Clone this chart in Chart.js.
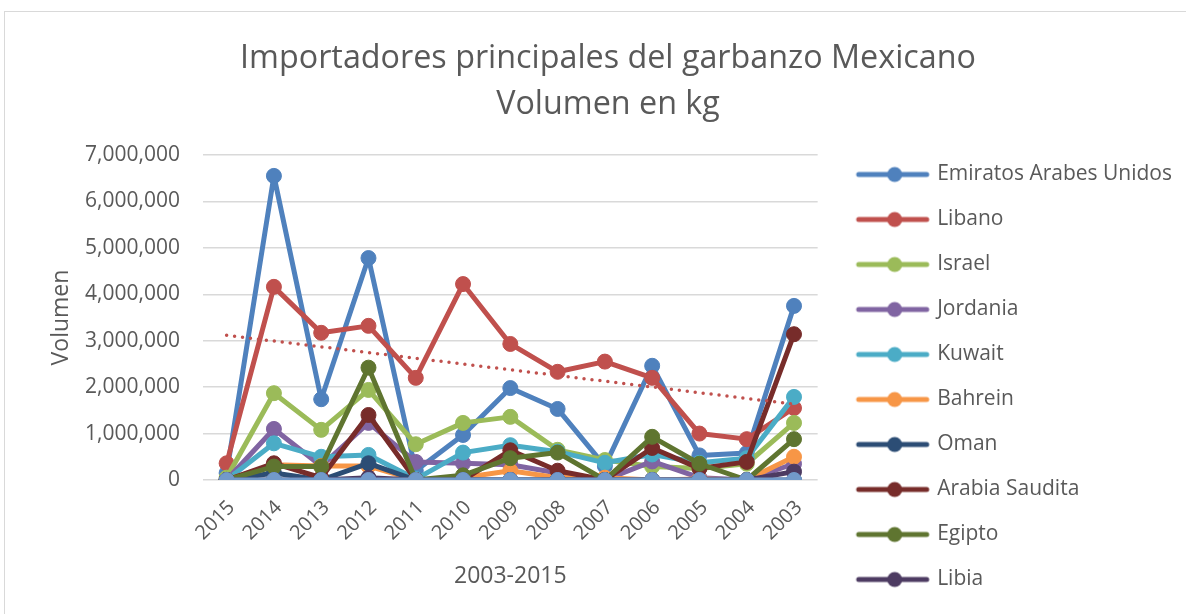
<!DOCTYPE html>
<html>
<head>
<meta charset="utf-8">
<script src="https://cdn.jsdelivr.net/npm/chart.js@4.4.1/dist/chart.umd.min.js"></script>
<style>
  html, body { margin: 0; padding: 0; background: #fff; overflow: hidden; }
  #frame { position: absolute; left: 4px; top: 11px; width: 1190px; height: 610px; border: 1px solid #d9d9d9; }
  #myChart { position: absolute; left: 0; top: 0; }
</style>
</head>
<body>
<div id="frame"></div>
<canvas id="myChart" width="1186" height="614"></canvas>
<script>
// data block
const years = ['2015', '2014', '2013', '2012', '2011', '2010', '2009', '2008', '2007', '2006', '2005', '2004', '2003'];

const emiratos = [150000, 6550000, 1740000, 4780000, 200000, 970000, 1980000, 1530000, 300000, 2460000, 530000, 580000, 3750000];
const libano   = [360000, 4160000, 3170000, 3320000, 2200000, 4220000, 2930000, 2330000, 2550000, 2200000, 1000000, 880000, 1550000];
const israel   = [50000, 1870000, 1080000, 1940000, 770000, 1230000, 1360000, 650000, 430000, 290000, 250000, 350000, 1230000];
const jordania = [0, 1100000, 300000, 1230000, 390000, 360000, 330000, 150000, 0, 400000, 50000, 0, 350000];
const kuwait   = [0, 790000, 500000, 540000, 20000, 590000, 750000, 610000, 370000, 550000, 370000, 470000, 1790000];
const bahrein  = [0, 330000, 300000, 300000, 0, 50000, 200000, 50000, 50000, 0, 20000, 0, 500000];
const oman     = [0, 150000, 0, 360000, 0, 0, 0, 0, 0, 0, 0, 0, 0];
const saudita  = [0, 360000, 50000, 1400000, 0, 0, 640000, 200000, 0, 690000, 250000, 390000, 3140000];
const egipto   = [0, 290000, 290000, 2420000, 0, 100000, 470000, 590000, 0, 930000, 350000, 0, 880000];
const libia    = [0, 0, 0, 50000, 0, 0, 0, 0, 0, 0, 0, 0, 180000];
const otros    = [0, 0, 0, 0, 0, 0, 0, 0, 0, 0, 0, 0, 0];

const yTicks = [0, 1000000, 2000000, 3000000, 4000000, 5000000, 6000000, 7000000];

const textColor = '#595959';
Chart.defaults.font.family = "'Open Sans', 'Liberation Sans', sans-serif";

// linear trend for Libano (like the excel trendline)
const n = libano.length;
const xMean = (n - 1) / 2;
const yMean = libano.reduce((a, b) => a + b, 0) / n;
let sxy = 0, sxx = 0;
libano.forEach((v, i) => { sxy += (i - xMean) * (v - yMean); sxx += (i - xMean) * (i - xMean); });
const slope = sxy / sxx;
const trendLibano = libano.map((v, i) => yMean + slope * (i - xMean));

function legendIcon(color) {
  const c = document.createElement('canvas');
  c.width = 76; c.height = 18;
  const g = c.getContext('2d');
  g.strokeStyle = color; g.lineWidth = 5; g.lineCap = 'round';
  g.beginPath(); g.moveTo(4, 9); g.lineTo(72, 9); g.stroke();
  g.fillStyle = color;
  g.beginPath(); g.arc(40, 9, 7.5, 0, Math.PI * 2); g.fill();
  return c;
}

const series = [
  ['Emiratos Arabes Unidos', emiratos, '#4F81BD'],
  ['Libano', libano, '#C0504D'],
  ['Israel', israel, '#9BBB59'],
  ['Jordania', jordania, '#8064A2'],
  ['Kuwait', kuwait, '#4BACC6'],
  ['Bahrein', bahrein, '#F79646'],
  ['Oman', oman, '#2C4D75'],
  ['Arabia Saudita', saudita, '#772C2A'],
  ['Egipto', egipto, '#5F7530'],
  ['Libia', libia, '#4D3B62'],
  ['Otros', otros, '#729ACA'],
];

const datasets = series.map(([label, values, color], i) => ({
  label: label,
  data: values,
  borderColor: color,
  backgroundColor: color,
  pointBackgroundColor: color,
  pointBorderColor: color,
  borderWidth: 5,
  borderJoinStyle: 'round',
  borderCapStyle: 'round',
  pointRadius: 7.5,
  pointBorderWidth: 1,
  tension: 0,
  fill: false,
  order: -i, // later series on top, like excel
  inLegend: i < 10,
}));

datasets.push({
  label: 'Lineal (Libano)',
  data: trendLibano,
  borderColor: '#C0504D',
  borderWidth: 3.5,
  borderDash: [0, 8],
  borderCapStyle: 'round',
  pointRadius: 0,
  fill: false,
  order: -100,
  inLegend: false,
});

const data = { labels: years, datasets };

// config block
const config = {
  type: 'line',
  data,
  options: {
    responsive: false,
    animation: false,
    events: [],
    devicePixelRatio: 1,
    layout: { padding: { left: 34, right: 4, top: 0, bottom: 0 } },
    plugins: {
      title: {
        display: true,
        text: ['Importadores principales del garbanzo Mexicano', 'Volumen en kg'],
        color: textColor,
        font: { size: 32.3, weight: 'normal', lineHeight: 1.424 },
        padding: { top: 36, bottom: 27 },
      },
      legend: {
        display: true,
        position: 'right',
        align: 'end',
        maxWidth: 420,
        labels: {
          color: textColor,
          font: { size: 21 },
          padding: 24,
          usePointStyle: true,
          pointStyleWidth: 68,
          generateLabels: (chart) => chart.data.datasets
            .filter(ds => ds.inLegend)
            .map((ds) => ({
              text: ds.label,
              fillStyle: ds.borderColor,
              strokeStyle: ds.borderColor,
              lineWidth: 0,
              pointStyle: legendIcon(ds.borderColor),
              fontColor: textColor,
              hidden: false,
            })),
        },
      },
      tooltip: { enabled: false },
    },
    scales: {
      x: {
        offset: true,
        grid: { display: false, drawTicks: false },
        border: { display: false },
        ticks: { color: textColor, font: { size: 20 }, minRotation: 45, maxRotation: 45, autoSkip: false, padding: 16, labelOffset: 5 },
        title: { display: true, text: '2003-2015', color: textColor, font: { size: 23 }, padding: { top: 0, bottom: 24 } },
        afterFit: (s) => { s.height = 134; },
      },
      y: {
        min: 0,
        max: 7000000,
        afterBuildTicks: (s) => { s.ticks = yTicks.map(v => ({ value: v })); },
        ticks: { color: textColor, font: { size: 21 }, padding: 23, callback: (v) => v.toLocaleString('en-US') },
        grid: { color: '#d9d9d9', lineWidth: 1.5, drawTicks: false },
        border: { display: false },
        title: { display: true, text: 'Volumen', color: textColor, font: { size: 23 }, padding: { top: 14 } },
        afterFit: (s) => { s.width = 169; },
      },
      gap: {
        type: 'linear',
        position: 'right',
        display: true,
        grid: { display: false, drawTicks: false },
        ticks: { display: false },
        border: { display: false },
        afterFit: (s) => { s.width = 17; },
      },
    },
  },
};

// init and render block
new Chart(document.getElementById('myChart'), config);
</script>
</body>
</html>
